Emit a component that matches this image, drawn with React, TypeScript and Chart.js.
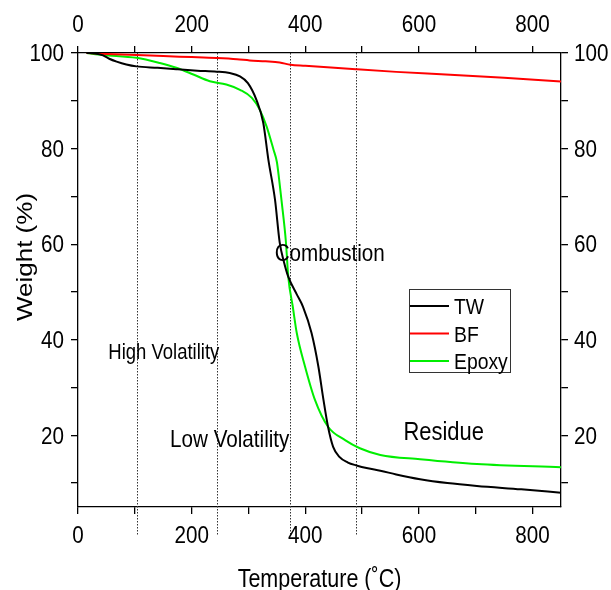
import React, { useEffect, useRef } from 'react';
import { Chart, registerables } from 'chart.js';

Chart.register(...registerables);

const FONT = '"Liberation Sans", Arial, sans-serif';
const NARROW = 0.86; // horizontal compression to imitate the squeezed sans face

// Tick values
const xTickValues = [0, 100, 200, 300, 400, 500, 600, 700, 800];
const yTickValues = [10, 20, 30, 40, 50, 60, 70, 80, 90, 100];
const xLabelValues = [0, 200, 400, 600, 800];
const yLabelValues = [20, 40, 60, 80, 100];

// TW series
const twT = [15, 30, 44, 55, 68, 85, 103, 140, 173, 210, 244, 267, 285, 299, 314, 326, 335, 346.7, 355, 362, 370, 385, 396, 411, 423, 432, 440, 449, 460, 475, 490, 510, 532, 560, 602, 650, 702, 780, 850];
const twW = [100, 99.9, 99.5, 98.8, 98.2, 97.6, 97.2, 96.9, 96.6, 96.3, 96.1, 95.8, 95.1, 93.7, 90.2, 85.4, 77.7, 69.3, 60.3, 56.5, 53.2, 49.5, 46.9, 41.4, 34.4, 27.4, 21.8, 17.6, 15.5, 14.3, 13.7, 13.1, 12.6, 11.8, 10.8, 10.0, 9.4, 8.7, 8.0];

// BF series
const bfT = [15, 50, 103, 150, 200, 244, 280, 302, 330, 355, 374, 400, 489, 560, 655, 750, 850];
const bfW = [100, 99.8, 99.6, 99.35, 99.15, 98.95, 98.7, 98.45, 98.25, 98.0, 97.55, 97.35, 96.6, 96.05, 95.45, 94.8, 94.05];

// Epoxy series
const epT = [15, 44, 103, 144, 173, 203, 232, 261, 285, 306, 320, 332, 344, 350, 354, 358, 366, 370, 378, 385, 399.5, 417, 440, 470, 496, 532, 602, 702, 850];
const epW = [100, 99.6, 99.0, 97.9, 96.9, 95.5, 94.1, 93.4, 92.3, 90.6, 88.1, 84.6, 79.8, 77.2, 73.5, 69.3, 60.3, 53.2, 46.9, 41.4, 34.4, 27.4, 21.8, 19.0, 17.3, 15.9, 15.0, 14.0, 13.3];

// Region separators (temperatures)
const dividerT = [103, 245, 373, 489];

// Region labels
const regionLabels = ['High Volatility', 'Low Volatility', 'Combustion', 'Residue'];
const regionT = [151, 267, 443, 643.5];
const regionW = [35.9, 17.6, 56.4, 19.0];
const regionSize = [21.5, 24, 24, 25.5];

const seriesNames = ['TW', 'BF', 'Epoxy'];
const seriesColors = ['#000000', '#ff0000', '#00ee00'];

const xTitle = 'Temperature (˚C)';
const yTitle = 'Weight (%)';

const toPts = (t: number[], w: number[]) => t.map((v, i) => ({ x: v, y: w[i] }));

function drawText(
  ctx: CanvasRenderingContext2D,
  txt: string,
  x: number,
  y: number,
  size: number,
  align: CanvasTextAlign,
  baseline: CanvasTextBaseline,
  rotate = 0
) {
  ctx.save();
  ctx.translate(x, y);
  if (rotate) {
    ctx.rotate(rotate);
    ctx.scale(1, NARROW);
  } else {
    ctx.scale(NARROW, 1);
  }
  ctx.font = `${size}px ${FONT}`;
  ctx.textAlign = align;
  ctx.textBaseline = baseline;
  ctx.fillStyle = '#000';
  ctx.fillText(txt, 0, 0);
  ctx.restore();
}

const overlay = {
  id: 'overlay',
  beforeDatasetsDraw(chart: any) {
    const { ctx, chartArea, scales } = chart;
    ctx.save();
    ctx.strokeStyle = '#333';
    ctx.lineWidth = 1;
    ctx.setLineDash([1.5, 1.5]);
    dividerT.forEach((t) => {
      const px = Math.round(scales.x.getPixelForValue(t)) + 0.5;
      ctx.beginPath();
      ctx.moveTo(px, chartArea.top);
      ctx.lineTo(px, chartArea.bottom + 28);
      ctx.stroke();
    });
    ctx.restore();
  },
  afterDraw(chart: any) {
    const { ctx, chartArea, scales } = chart;
    // tick labels
    xLabelValues.forEach((v) => {
      const px = scales.x.getPixelForValue(v);
      drawText(ctx, String(v), px, chartArea.bottom + 36, 24, 'center', 'alphabetic');
      drawText(ctx, String(v), px, chartArea.top - 21.5, 24, 'center', 'alphabetic');
    });
    yLabelValues.forEach((v) => {
      const py = scales.y.getPixelForValue(v) + 8.3;
      drawText(ctx, String(v), chartArea.left - 14, py, 24, 'right', 'alphabetic');
      drawText(ctx, String(v), chartArea.right + 13, py, 24, 'left', 'alphabetic');
    });
    // region labels
    regionLabels.forEach((txt, i) => {
      drawText(ctx, txt, scales.x.getPixelForValue(regionT[i]), scales.y.getPixelForValue(regionW[i]), regionSize[i], 'center', 'alphabetic');
    });
    // legend
    ctx.save();
    const lx = chartArea.left + 331;
    const ly = chartArea.top + 236;
    ctx.strokeStyle = '#333';
    ctx.lineWidth = 1;
    ctx.strokeRect(lx + 0.5, ly + 0.5, 101, 83);
    seriesNames.forEach((name, i) => {
      const ry = ly + 17 + i * 27.5;
      ctx.strokeStyle = seriesColors[i];
      ctx.lineWidth = 2;
      ctx.beginPath();
      ctx.moveTo(lx + 1, ry);
      ctx.lineTo(lx + 40, ry);
      ctx.stroke();
      drawText(ctx, name, lx + 45, ry + 8.3, 22.5, 'left', 'alphabetic');
    });
    ctx.restore();
    // axis titles
    drawText(ctx, xTitle, (chartArea.left + chartArea.right) / 2, 587, 25, 'center', 'alphabetic');
    drawText(ctx, yTitle, 32, 257, 26, 'center', 'alphabetic', -Math.PI / 2);
  },
};

function xAxis(position: 'top' | 'bottom', size: number) {
  return {
    type: 'linear' as const,
    position,
    min: 0,
    max: 850,
    afterBuildTicks: (s: any) => {
      s.ticks = xTickValues.map((v) => ({ value: v }));
    },
    afterFit: (s: any) => {
      s.height = size;
    },
    ticks: { display: false, autoSkip: false },
    grid: { drawOnChartArea: false, color: '#000', tickLength: 7, lineWidth: 1.3 },
    border: { color: '#000', width: 1.3 },
  };
}

function yAxis(position: 'left' | 'right', size: number) {
  return {
    type: 'linear' as const,
    position,
    min: 5,
    max: 100,
    afterBuildTicks: (s: any) => {
      s.ticks = yTickValues.map((v) => ({ value: v }));
    },
    afterFit: (s: any) => {
      s.width = size;
    },
    ticks: { display: false, autoSkip: false },
    grid: { drawOnChartArea: false, color: '#000', tickLength: 7, lineWidth: 1.3 },
    border: { color: '#000', width: 1.3 },
  };
}

export default function App() {
  const ref = useRef<HTMLCanvasElement>(null);
  useEffect(() => {
    if (!ref.current) return;
    const seriesT = [twT, bfT, epT];
    const seriesW = [twW, bfW, epW];
    const chart = new Chart(ref.current, {
      type: 'line',
      data: {
        datasets: seriesNames.map((name, i) => ({
          label: name,
          data: toPts(seriesT[i], seriesW[i]),
          borderColor: seriesColors[i],
          backgroundColor: seriesColors[i],
          borderWidth: 2,
          pointRadius: 0,
          cubicInterpolationMode: 'monotone' as const,
          xAxisID: 'x',
          yAxisID: 'y',
        })),
      },
      options: {
        responsive: false,
        animation: false,
        layout: { padding: 0 },
        plugins: { legend: { display: false }, tooltip: { enabled: false } },
        scales: {
          x: xAxis('bottom', 83),
          x2: xAxis('top', 53),
          y: yAxis('left', 78),
          y2: yAxis('right', 50),
        } as any,
      },
      plugins: [overlay],
    });
    return () => chart.destroy();
  }, []);
  return (
    <div style={{ position: 'fixed', left: 0, top: 0, width: 611, height: 590, background: '#fff' }}>
      <canvas ref={ref} width={611} height={590} style={{ width: 611, height: 590, display: 'block' }} />
    </div>
  );
}
